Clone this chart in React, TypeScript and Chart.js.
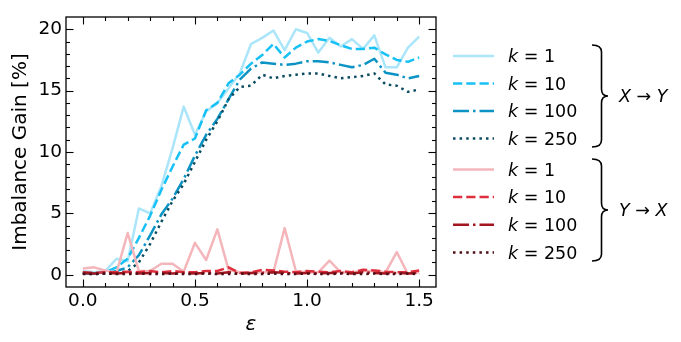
import React, { useEffect, useRef } from 'react';
import { Chart, registerables } from 'chart.js';

Chart.register(...registerables);

// ---------- data ----------
const eps = [0.0, 0.05, 0.1, 0.15, 0.2, 0.25, 0.3, 0.35, 0.4, 0.45, 0.5, 0.55, 0.6, 0.65, 0.7, 0.75, 0.8, 0.85, 0.9, 0.95, 1.0, 1.05, 1.1, 1.15, 1.2, 1.25, 1.3, 1.35, 1.4, 1.45, 1.5];

const xyK1 = [0.3, 0.2, 0.3, 1.3, 1.1, 5.4, 5.0, 7.2, 10.3, 13.7, 11.4, 13.3, 14.0, 15.2, 16.4, 18.8, 19.3, 19.9, 18.3, 20.0, 19.7, 18.1, 19.3, 18.6, 19.2, 18.4, 19.5, 16.9, 16.9, 18.5, 19.4];
const xyK10 = [0.2, 0.1, 0.2, 0.6, 1.3, 3.0, 4.8, 6.9, 8.8, 10.6, 11.1, 13.4, 14.0, 15.6, 16.3, 17.2, 17.9, 18.8, 17.7, 18.5, 19.0, 19.2, 19.05, 18.7, 18.4, 18.4, 18.5, 17.95, 17.5, 17.35, 17.7];
const xyK100 = [0.1, 0.1, 0.1, 0.3, 0.6, 1.6, 3.2, 4.9, 6.2, 7.8, 9.7, 11.4, 12.7, 14.3, 15.9, 16.8, 17.3, 17.2, 17.1, 17.2, 17.4, 17.4, 17.3, 17.1, 16.9, 17.1, 17.6, 16.45, 16.3, 16.0, 16.2];
const xyK250 = [0.1, 0.05, 0.1, 0.1, 0.3, 1.0, 2.5, 4.3, 6.0, 7.4, 9.2, 11.0, 12.5, 14.3, 15.3, 15.4, 16.3, 16.0, 16.2, 16.3, 16.4, 16.4, 16.2, 16.0, 16.1, 16.2, 16.4, 15.5, 15.4, 14.9, 15.1];

const yxK1 = [0.5, 0.6, 0.35, 0.15, 3.4, 0.3, 0.3, 0.9, 0.9, 0.25, 2.6, 1.2, 3.7, 0.4, 0.2, 0.15, 0.2, 0.2, 3.8, 0.3, 0.2, 0.2, 1.15, 0.2, 0.2, 0.3, 0.3, 0.2, 1.85, 0.05, 0.2];
const yxK10 = [0.2, 0.15, 0.2, 0.2, 0.25, 0.2, 0.3, 0.2, 0.3, 0.2, 0.2, 0.3, 0.3, 0.6, 0.15, 0.2, 0.4, 0.35, 0.25, 0.2, 0.3, 0.25, 0.2, 0.3, 0.2, 0.4, 0.35, 0.25, 0.2, 0.2, 0.35];
const yxK100 = [0.15, 0.1, 0.15, 0.1, 0.15, 0.1, 0.15, 0.15, 0.1, 0.15, 0.1, 0.15, 0.1, 0.2, 0.1, 0.15, 0.15, 0.2, 0.15, 0.1, 0.15, 0.1, 0.15, 0.15, 0.1, 0.2, 0.15, 0.1, 0.15, 0.1, 0.15];
const yxK250 = [0.05, 0.05, 0.1, 0.05, 0.05, 0.1, 0.05, 0.05, 0.1, 0.05, 0.05, 0.1, 0.05, 0.05, 0.1, 0.05, 0.05, 0.1, 0.05, 0.05, 0.1, 0.05, 0.05, 0.1, 0.05, 0.05, 0.1, 0.05, 0.05, 0.1, 0.05];

const kLabels = ['1', '10', '100', '250'];
const groupLabels = [['X', 'Y'], ['Y', 'X']];

const xTicks = [0, 0.5, 1.0, 1.5];
const xTickLabels = ['0.0', '0.5', '1.0', '1.5'];
const yTicks = [0, 5, 10, 15, 20];
const yTickLabels = ['0', '5', '10', '15', '20'];

// ---------- styles ----------
const FONT = "'DejaVu Sans', sans-serif";
const LW = 2.5;
const DASHES = [[], [9.25, 4], [16, 4, 2.5, 4], [2.5, 4.1]];
const BLUES = ['#aae5fa', '#17c0f5', '#0b93c4', '#0a4b60'];
const REDS = ['#f4b6bb', '#df2f3e', '#a3151f', '#4c0e16'];

const groups = [
  { series: [xyK1, xyK10, xyK100, xyK250], colors: BLUES },
  { series: [yxK1, yxK10, yxK100, yxK250], colors: REDS },
];

const frameTicks = {
  id: 'frameTicks',
  afterDatasetsDraw(chart: any) {
    const { ctx, chartArea, scales } = chart;
    const { left, right, top, bottom } = chartArea;
    const x = scales.x;
    const y = scales.y;
    ctx.save();
    ctx.strokeStyle = '#000';
    ctx.lineWidth = 1.1;
    const seg = (x1: number, y1: number, x2: number, y2: number) => {
      ctx.beginPath();
      ctx.moveTo(x1, y1);
      ctx.lineTo(x2, y2);
      ctx.stroke();
    };
    const xt = (v: number, len: number) => {
      const p = Math.round(x.getPixelForValue(v)) + 0.5;
      seg(p, bottom, p, bottom - len);
      seg(p, top, p, top + len);
    };
    const yt = (v: number, len: number) => {
      const p = Math.round(y.getPixelForValue(v)) + 0.5;
      seg(left, p, left + len, p);
      seg(right, p, right - len, p);
    };
    for (let i = 0; i <= 15; i++) {
      const v = i / 10;
      if (xTicks.some((t) => Math.abs(t - v) < 1e-9)) continue;
      xt(v, 4);
    }
    xTicks.forEach((v) => xt(v, 7.5));
    for (let i = 0; i <= 20; i++) {
      if (yTicks.includes(i)) continue;
      yt(i, 4);
    }
    yTicks.forEach((v) => yt(v, 7.5));
    ctx.lineWidth = 1.3;
    ctx.strokeRect(left, top, right - left, bottom - top);
    ctx.restore();
  },
};

function ChartCanvas() {
  const ref = useRef<HTMLCanvasElement>(null);
  useEffect(() => {
    const datasets: any[] = [];
    let idx = 0;
    groups.forEach((g, gi) => {
      g.series.forEach((s, si) => {
        datasets.push({
          label: `${groupLabels[gi].join('→')} k=${kLabels[si]}`,
          data: eps.map((e, i) => ({ x: e, y: s[i] })),
          borderColor: g.colors[si],
          backgroundColor: g.colors[si],
          borderWidth: LW,
          borderDash: DASHES[si],
          borderCapStyle: 'butt',
          borderJoinStyle: 'round',
          pointRadius: 0,
          tension: 0,
          fill: false,
          order: 100 - idx,
        });
        idx++;
      });
    });
    const chart = new Chart(ref.current as HTMLCanvasElement, {
      type: 'line',
      data: { datasets },
      options: {
        animation: false,
        responsive: true,
        maintainAspectRatio: false,
        layout: { padding: { left: 0, right: 245, top: 17, bottom: 0 } },
        plugins: { legend: { display: false }, tooltip: { enabled: false } },
        scales: {
          x: {
            type: 'linear',
            min: -0.075,
            max: 1.575,
            afterBuildTicks: (s: any) => {
              s.ticks = xTicks.map((v) => ({ value: v }));
            },
            afterFit: (s: any) => {
              s.height = 55;
            },
            grid: { display: false, drawTicks: false },
            border: { display: false },
            ticks: {
              autoSkip: false,
              maxRotation: 0,
              padding: 3,
              color: '#000',
              font: { family: FONT, size: 18.5 },
              callback: (_v: any, i: number) => xTickLabels[i],
            },
            title: {
              display: true,
              text: 'ε',
              color: '#000',
              font: { family: FONT, size: 20, style: 'italic' },
              padding: { top: 0, bottom: 5 },
            },
          },
          y: {
            type: 'linear',
            min: -1,
            max: 21,
            afterBuildTicks: (s: any) => {
              s.ticks = yTicks.map((v) => ({ value: v }));
            },
            afterFit: (s: any) => {
              s.width = 66;
            },
            grid: { display: false, drawTicks: false },
            border: { display: false },
            ticks: {
              autoSkip: false,
              padding: 4,
              color: '#000',
              font: { family: FONT, size: 18.5 },
              callback: (_v: any, i: number) => yTickLabels[i],
            },
            title: {
              display: true,
              text: 'Imbalance Gain [%]',
              color: '#000',
              font: { family: FONT, size: 20 },
              padding: { top: 9, bottom: 0 },
            },
          },
        },
      },
      plugins: [frameTicks],
    });
    return () => chart.destroy();
  }, []);
  return <canvas ref={ref} />;
}

const ROW_TOPS = [[56, 83.5, 111, 138.5], [169.5, 197, 224.7, 252.5]];
const BRACES = [
  { top: 45, bottom: 147, mid: 96 },
  { top: 159, bottom: 261, mid: 210 },
];

function Legend() {
  return (
    <div style={{ position: 'absolute', left: 0, top: 0, width: 681, height: 342, pointerEvents: 'none' }}>
      <svg width={681} height={342} style={{ position: 'absolute', left: 0, top: 0 }}>
        {groups.map((g, gi) =>
          g.colors.map((c, si) => (
            <line
              key={`l${gi}${si}`}
              x1={453}
              x2={494}
              y1={ROW_TOPS[gi][si]}
              y2={ROW_TOPS[gi][si]}
              stroke={c}
              strokeWidth={LW}
              strokeDasharray={DASHES[si].length ? DASHES[si].join(' ') : undefined}
            />
          ))
        )}
        {BRACES.map((b, i) => {
          const x0 = 592, xm = 601.5, xt = 608, r = 7;
          const d = `M ${x0} ${b.top} Q ${xm} ${b.top} ${xm} ${b.top + r} L ${xm} ${b.mid - r} Q ${xm} ${b.mid} ${xt} ${b.mid} Q ${xm} ${b.mid} ${xm} ${b.mid + r} L ${xm} ${b.bottom - r} Q ${xm} ${b.bottom} ${x0} ${b.bottom}`;
          return <path key={`b${i}`} d={d} fill="none" stroke="#000" strokeWidth={1.6} />;
        })}
      </svg>
      {groups.map((g, gi) =>
        kLabels.map((k, si) => (
          <div
            key={`t${gi}${si}`}
            style={{
              position: 'absolute',
              left: 508,
              top: ROW_TOPS[gi][si] - 11,
              height: 22,
              lineHeight: '22px',
              fontFamily: FONT,
              fontSize: 17.5,
              color: '#000',
              whiteSpace: 'nowrap',
            }}
          >
            <i>k</i> = {k}
          </div>
        ))
      )}
      {groupLabels.map((gl, i) => (
        <div
          key={`g${i}`}
          style={{
            position: 'absolute',
            left: 619,
            top: BRACES[i].mid - 11,
            height: 22,
            lineHeight: '22px',
            fontFamily: FONT,
            fontSize: 17.5,
            color: '#000',
            whiteSpace: 'nowrap',
          }}
        >
          <i>{gl[0]}</i> → <i>{gl[1]}</i>
        </div>
      ))}
    </div>
  );
}

export default function App() {
  return (
    <div style={{ position: 'absolute', left: 0, top: 0, width: 681, height: 342, background: '#fff' }}>
      <div style={{ position: 'absolute', left: 0, top: 0, width: 681, height: 342 }}>
        <ChartCanvas />
      </div>
      <Legend />
    </div>
  );
}
